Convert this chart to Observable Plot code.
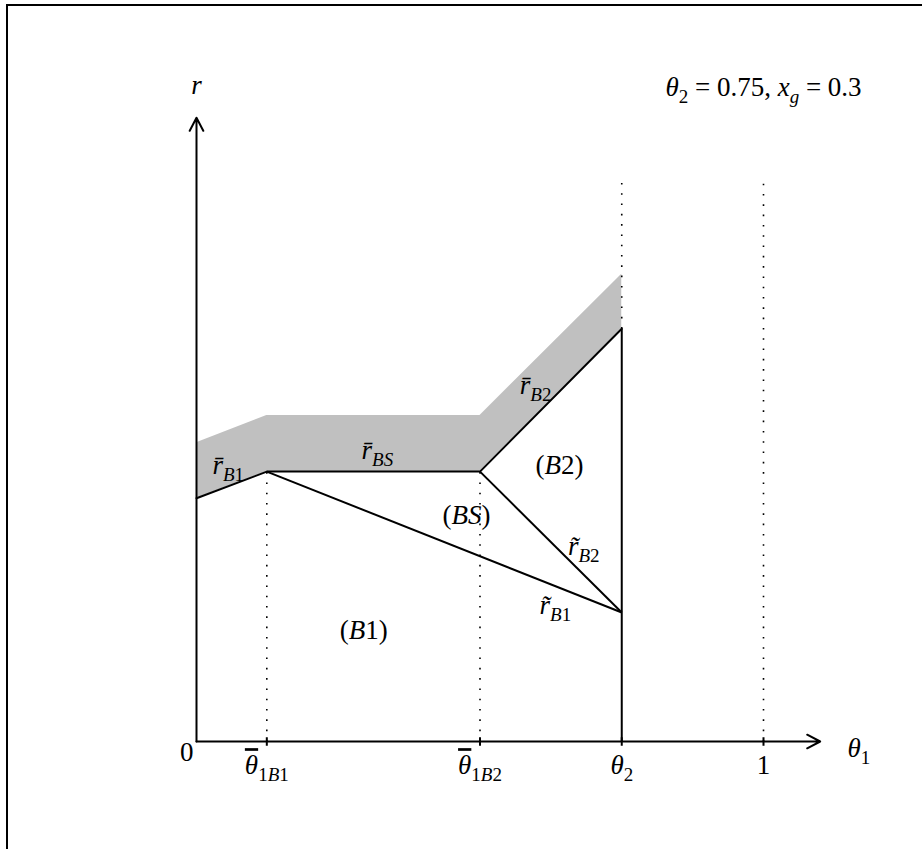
<!DOCTYPE html>
<html>
<head>
<meta charset="utf-8">
<script src="https://cdn.jsdelivr.net/npm/d3@7"></script>
<script src="https://cdn.jsdelivr.net/npm/@observablehq/plot@0.6"></script>
<style>
  html, body { margin: 0; padding: 0; background: #fff; overflow: hidden; width: 922px; height: 849px; }
  #wrap { position: relative; width: 922px; height: 849px; }
  #wrap svg { position: absolute; left: 0; top: 0; }
  #frame { position: absolute; left: 6px; top: 4px; width: 2000px; height: 2000px; border: 2px solid #000; pointer-events: none; }
</style>
</head>
<body>
<div id="wrap"><div id="chart"></div><div id="frame"></div></div>
<script>
// ---- data ----
const thetaKnots = [0, 0.124, 0.5, 0.75];          // θ1 positions of the r̄ kinks
const rBarVals   = [0.429, 0.476, 0.476, 0.728];   // r̄ boundary (B1, BS, B2)
const rBandVals  = [0.527, 0.575, 0.575, 0.824];   // top of the grey band
const theta2 = 0.75;
const rTildeAtTheta2 = 0.2275;                      // where r̃B1 and r̃B2 meet
const rTildeStartX = [0.124, 0.5];                  // r̃B1 starts at θ̄1B1, r̃B2 at θ̄1B2
const rTildeStartY = [0.476, 0.476];

const axisMax = 1.1;
const tickPositions = [0.124, 0.5, 0.75, 1];
const tickLabels = ["^θ_{1B1}", "^θ_{1B2}", "θ_{2}", "1"];   // ^ marks a barred symbol

const dottedX    = [0.124, 0.5, 0.75, 1];
const dottedFrom = [0, 0, 0.728, 0];
const dottedTo   = [0.476, 0.476, 1.0, 0.985];

const labelText = ["r̄_{B1}", "r̄_{BS}", "r̄_{B2}", "(B2)", "(BS)", "r̃_{B2}", "r̃_{B1}", "(B1)"];
const labelX    = [0.056, 0.319, 0.598, 0.64, 0.476, 0.683, 0.633, 0.295];
const labelY    = [0.487, 0.513, 0.628, 0.487, 0.399, 0.344, 0.240, 0.196];

const axisLabelText = ["r", "θ_{1}", "0"];
const axisLabelX    = [0, 1.168, -0.017];
const axisLabelY    = [1.157, -0.012, -0.02];

const titleText = "θ_{2} = 0.75, x_{g} = 0.3";
const titleX = 1.0, titleY = 1.153;

// ---- tables ----
const band = thetaKnots.map((x, i) => ({x, lo: rBarVals[i], hi: rBandVals[i]}));
const tildes = rTildeStartX.map((x, i) => ({x1: x, y1: rTildeStartY[i], x2: theta2, y2: rTildeAtTheta2}));
const dotted = dottedX.map((x, i) => ({x, y1: dottedFrom[i], y2: dottedTo[i]}));
const labels = labelText.map((t, i) => ({t, x: labelX[i], y: labelY[i]}));
const axisLabels = axisLabelText.map((t, i) => ({t, x: axisLabelX[i], y: axisLabelY[i]}));
const ticks = tickPositions.map((x, i) => ({x, t: tickLabels[i]}));

const FONT = "'Liberation Serif', 'DejaVu Serif', serif";
const MAIN = 27, SUB = 19, SHIFT = 7;
const tickLen = 0.0075;

const plot = Plot.plot({
  width: 922,
  height: 849,
  margin: 0,
  style: {background: "transparent", fontFamily: FONT, overflow: "visible"},
  x: {domain: [0, 1], range: [196, 763], axis: null},
  y: {domain: [0, 1], range: [741, 174], axis: null},
  marks: [
    Plot.areaY(band, {x: "x", y1: "lo", y2: "hi", fill: "#c0c0c0"}),
    Plot.link(dotted, {x1: "x", x2: "x", y1: "y1", y2: "y2", stroke: "#000", strokeWidth: 1.6, strokeDasharray: "1.6 8.7", strokeLinecap: "butt"}),
    Plot.line(band, {x: "x", y: "lo", stroke: "#000", strokeWidth: 2}),
    Plot.link(tildes, {x1: "x1", y1: "y1", x2: "x2", y2: "y2", stroke: "#000", strokeWidth: 2}),
    Plot.link([theta2], {x1: d => d, x2: d => d, y1: 0, y2: rBarVals[3], stroke: "#000", strokeWidth: 2}),
    Plot.link(ticks, {x1: "x", x2: "x", y1: -tickLen, y2: tickLen, stroke: "#000", strokeWidth: 2}),
    Plot.arrow([0], {x1: 0, y1: 0, x2: axisMax, y2: 0, stroke: "#000", strokeWidth: 2, headLength: 11, headAngle: 55}),
    Plot.arrow([0], {x1: 0, y1: 0, x2: 0, y2: axisMax, stroke: "#000", strokeWidth: 2, headLength: 11, headAngle: 55}),
    Plot.text(ticks, {x: "x", y: 0, text: "t", dy: 24, fontSize: MAIN, fill: "#000", className: "mathlbl"}),
    Plot.text(labels, {x: "x", y: "y", text: "t", fontSize: MAIN, fill: "#000", className: "mathlbl"}),
    Plot.text(axisLabels, {x: "x", y: "y", text: "t", fontSize: MAIN, fill: "#000", className: "mathlbl"}),
    Plot.text([titleText], {x: titleX, y: titleY, text: d => d, fontSize: MAIN, fill: "#000", className: "mathlbl"})
  ]
});

document.getElementById("chart").appendChild(plot);

// Convert "a_{b}" markup into tspans: letters italic, subscripts smaller and lowered.
function runs(str, sub) {
  const out = [];
  const re = /\^?([A-Za-zθ][\u0300-\u036f]*)+/g;
  let last = 0, m;
  while ((m = re.exec(str)) !== null) {
    if (m.index > last) out.push({s: str.slice(last, m.index), it: false, sub});
    let s = m[0], bar = false;
    if (s[0] === "^") { s = s.slice(1); bar = true; }
    out.push({s, it: true, sub, bar});
    last = m.index + m[0].length;
  }
  if (last < str.length) out.push({s: str.slice(last), it: false, sub});
  return out;
}
function parse(str) {
  const parts = [];
  const re = /_\{([^}]*)\}/g;
  let last = 0, m;
  while ((m = re.exec(str)) !== null) {
    if (m.index > last) parts.push(...runs(str.slice(last, m.index), false));
    parts.push(...runs(m[1], true));
    last = m.index + m[0].length;
  }
  if (last < str.length) parts.push(...runs(str.slice(last), false));
  return parts;
}
const NS = "http://www.w3.org/2000/svg";
plot.querySelectorAll(".mathlbl text").forEach(el => {
  const str = el.textContent;
  el.textContent = "";
  let lowered = false;
  for (const p of parse(str)) {
    const ts = document.createElementNS(NS, "tspan");
    ts.textContent = p.s;
    if (p.it) ts.setAttribute("font-style", "italic");
    if (p.bar) ts.setAttribute("text-decoration", "overline");
    if (p.sub) {
      ts.setAttribute("font-size", SUB);
      if (!lowered) { ts.setAttribute("dy", SHIFT); lowered = true; }
    } else if (lowered) {
      ts.setAttribute("dy", -SHIFT); lowered = false;
    }
    el.appendChild(ts);
  }
});
</script>
</body>
</html>
